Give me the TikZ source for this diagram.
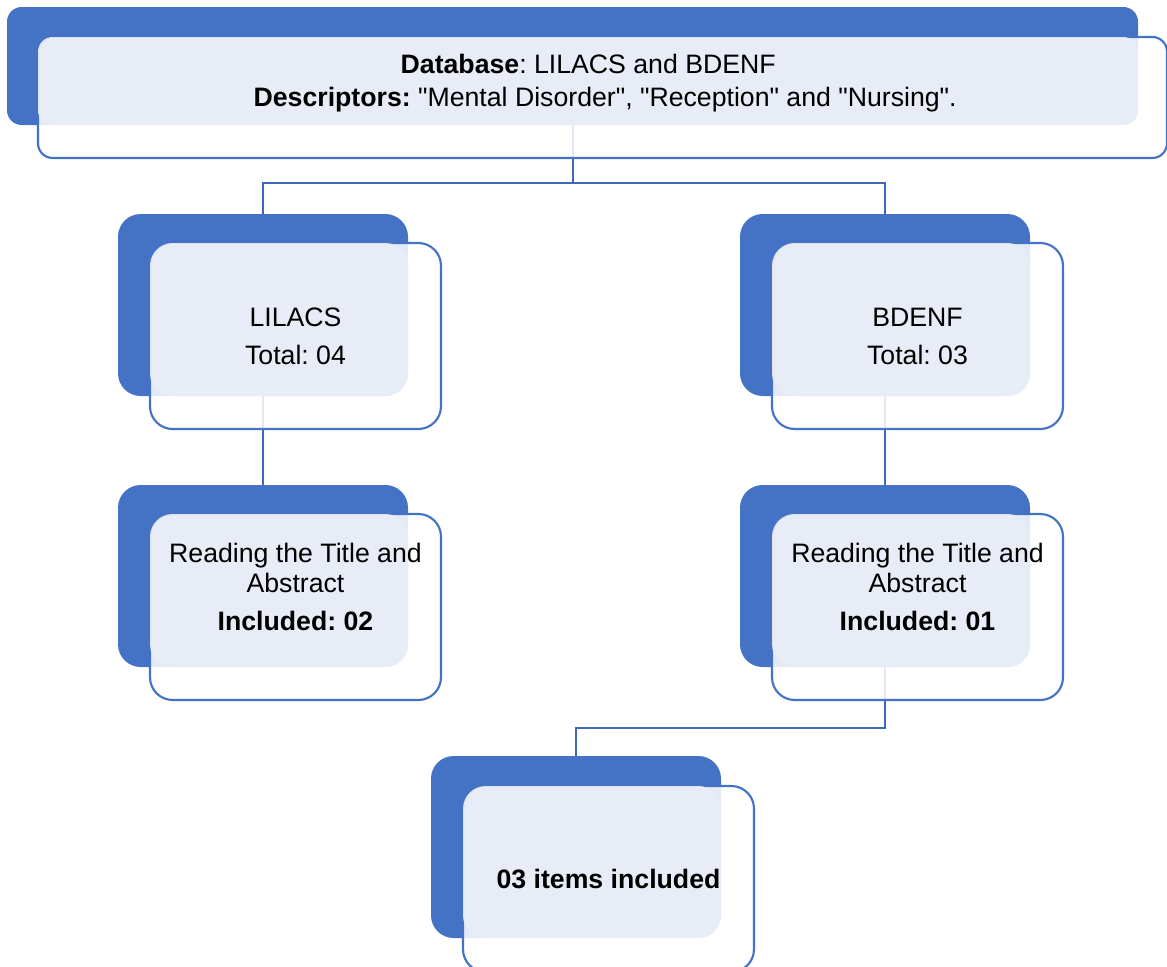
\documentclass[tikz,border=0pt]{standalone}
\usepackage{fontspec}
\setmainfont{Liberation Sans}[Ligatures=TeXOff]
\usetikzlibrary{positioning}
\definecolor{boxblue}{HTML}{4472C4}
\definecolor{panelgray}{HTML}{E9EDF6}
\definecolor{linkblue}{HTML}{3F68B8}
\frenchspacing

\begin{document}
\begin{tikzpicture}[x=0.75pt,y=-0.75pt,font=\fontsize{20}{22}\selectfont]

    \tikzstyle{back}=[fill=boxblue,rounded corners=17pt,inner sep=0pt,outer sep=0pt,anchor=north west,minimum width=217.5pt,minimum height=136.5pt]
    \tikzstyle{frame}=[draw=boxblue,line width=1.6pt,fill=white,fill opacity=0.85,rounded corners=17pt,inner sep=0pt,outer sep=0pt,minimum width=218.25pt,minimum height=139.5pt]
    \tikzstyle{panel}=[fill=panelgray,fill opacity=0.92,rounded corners=17pt]
    \tikzstyle{link}=[draw=linkblue,line width=1.5pt]
    \tikzstyle{boxtext}=[align=center,text=black,inner sep=0pt]

    \useasboundingbox (0,0) rectangle (1167,967);

    % blue back cards
    \node[back,minimum width=848.25pt,minimum height=88.5pt,rounded corners=11pt] (dbA) at (7,7) {};
    \node[back] (lilA) at (118,214) {};
    \node[back,right=249pt of lilA] (bdA) {};
    \node[back,below=66.75pt of lilA] (lowA) {};
    \node[back,below=66.75pt of bdA] (rlowA) {};
    \node[back] (finA) at (431,756) {};

    % connectors
    \draw[link] (dbA.south) -- ++(0,58) coordinate (fork) -| (lilA.north);
    \draw[link] (fork) -| (bdA.north);
    \draw[link] (lilA.south) -- (lowA.north);
    \draw[link] (bdA.south) -- (rlowA.north);
    \draw[link] (rlowA.south) -- ++(0,61) -| (finA.north);

    % outlined front cards
    \node[frame,minimum width=846.75pt,minimum height=90.75pt,rounded corners=11pt,below right=22.5pt and 23.25pt of dbA.north west] (dbB) {};
    \node[frame,below right=21.75pt and 24pt of lilA.north west] (lilB) {};
    \node[frame,below right=21.75pt and 24pt of bdA.north west] (bdB) {};
    \node[frame,below right=21.75pt and 24pt of lowA.north west] (lowB) {};
    \node[frame,below right=21.75pt and 24pt of rlowA.north west] (rlowB) {};
    \node[frame,below right=22.5pt and 24pt of finA.north west] (finB) {};

    % light panels where the cards overlap
    \fill[panel,rounded corners=11pt] (dbB.north west) rectangle (dbA.south east);
    \fill[panel] (lilB.north west) rectangle (lilA.south east);
    \fill[panel] (bdB.north west) rectangle (bdA.south east);
    \fill[panel] (lowB.north west) rectangle (lowA.south east);
    \fill[panel] (rlowB.north west) rectangle (rlowA.south east);
    \fill[panel] (finB.north west) rectangle (finA.south east);

    % texts
    \node[boxtext] (dbT) at ([xshift=2pt,yshift=11pt]dbB.center) {\textbf{Database}: LILACS and BDENF\hspace*{25.5pt}\\[2.75pt]\textbf{Descriptors:} "Mental Disorder", "Reception" and "Nursing".};
    \node[boxtext] (lilT) at (lilB.center) {LILACS\\[6.5pt]Total: 04};
    \node[boxtext] (bdT) at (bdB.center) {BDENF\\[6.5pt]Total: 03};
    \node[boxtext] (lowT) at ([yshift=15pt]lowB.center) {Reading the Title and\\Abstract\\[6.5pt]\textbf{Included: 02}};
    \node[boxtext] (rlowT) at ([yshift=15pt]rlowB.center) {Reading the Title and\\Abstract\\[6.5pt]\textbf{Included: 01}};
    \node[boxtext] (finT) at (finB.center) {\textbf{03 items included}};

\end{tikzpicture}
\end{document}
